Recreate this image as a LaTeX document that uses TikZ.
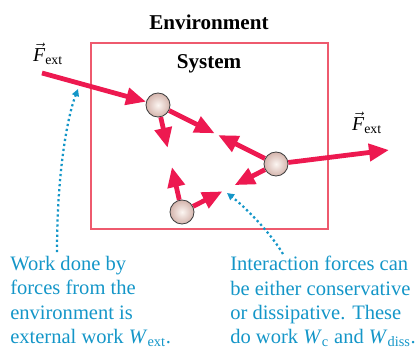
\documentclass[tikz,border=0pt]{standalone}
\usepackage{amsmath}
\usepackage{fontspec}
\setmainfont{Liberation Serif}
\usetikzlibrary{arrows.meta,calc}
\definecolor{forcered}{RGB}{237,25,80}
\definecolor{boxred}{RGB}{238,90,110}
\definecolor{notecyan}{RGB}{20,150,200}
\definecolor{ballin}{RGB}{252,246,242}
\definecolor{ballout}{RGB}{212,180,172}
\newcommand{\Fvec}{$\vec{\text{\textit{F}}}_{\text{ext}}$}

\begin{document}
\begin{tikzpicture}[
  x=0.025cm, y=-0.025cm,
  font=\fontsize{14.6}{17.3}\selectfont,
  % ── node styles ──────────────────────────────────────────
  ball/.style={
    circle, minimum size=0.6cm, inner sep=0pt,
    draw=black!75, line width=0.6pt,
    inner color=ballin, outer color=ballout
  },
  sysbox/.style={
    rectangle, draw=boxred, line width=1.8pt,
    minimum width=5.925cm, minimum height=4.65cm
  },
  title/.style={font=\fontsize{15}{17.5}\selectfont\bfseries, inner sep=1pt},
  flabel/.style={font=\fontsize{14}{17}\selectfont, inner sep=1pt},
  note/.style={anchor=north west, align=left, inner sep=0pt, text=notecyan},
  % ── link styles ──────────────────────────────────────────
  force/.style={draw=forcered, line width=3.4pt,
    -{Triangle[length=0.5cm,width=0.42cm]}},
  hint/.style={draw=notecyan, line width=1.6pt, dotted,
    -{Triangle[length=5pt,width=5pt]}},
]
\useasboundingbox (0,0) rectangle (418,350);

%% ── SYSTEM BOX AND TITLES ───────────────────────────────────
\node[sysbox] (sys) at (209.5,136) {};
\node[title] (env)  at (209,22) {Environment};
\node[title] (sysl) at (209,64) {System};

%% ── PARTICLES ───────────────────────────────────────────────
\node[ball] (b1) at (158,105) {};
\node[ball] (b2) at (276,164) {};
\node[ball] (b3) at (182,212) {};

%% ── EXTERNAL FORCES ─────────────────────────────────────────
\coordinate (fin)  at (42,73);
\coordinate (fout) at (389,150);
\draw[force] (fin) -- (b1);
\draw[force] (b2) -- (fout);
\node[flabel] (fl) at (48,54)  {\Fvec};
\node[flabel] (fr) at (367,123) {\Fvec};

%% ── INTERACTION FORCES (pairs meet part way) ────────────────
\coordinate (t12) at ($(b1)!0.48!(b2)$);
\coordinate (t21) at ($(b1)!0.51!(b2)$);
\coordinate (t13) at ($(b1)!0.40!(b3)$);
\coordinate (t31) at ($(b1)!0.58!(b3)$);
\coordinate (t23) at ($(b2)!0.44!(b3)$);
\coordinate (t32) at ($(b2)!0.57!(b3)$);
\draw[force] (b1) -- (t12);
\draw[force] (b2) -- (t21);
\draw[force] (b1) -- (t13);
\draw[force] (b3) -- (t31);
\draw[force] (b2) -- (t23);
\draw[force] (b3) -- (t32);

%% ── NOTES WITH DOTTED POINTERS ──────────────────────────────
\node[note] (extnote) at (10,256)
  {Work done by\\forces from the\\environment is\\external work
   $\text{\textit{W}}_{\text{ext}}$.};
\node[note] (intnote) at (230,256)
  {Interaction forces can\\be either conservative\\or dissipative. These\\do work
   $\text{\textit{W}}_{\text{c}}$ and $\text{\textit{W}}_{\text{diss}}$.};
\coordinate (p1) at (57,252);
\coordinate (w1) at (78,89);
\coordinate (p2) at (283,254);
\coordinate (w2) at (227,193);
\draw[hint] (p1) .. controls (57,170) and (68,115) .. (w1);
\draw[hint] (p2) .. controls (270,232) and (245,207) .. (w2);

\end{tikzpicture}
\end{document}
